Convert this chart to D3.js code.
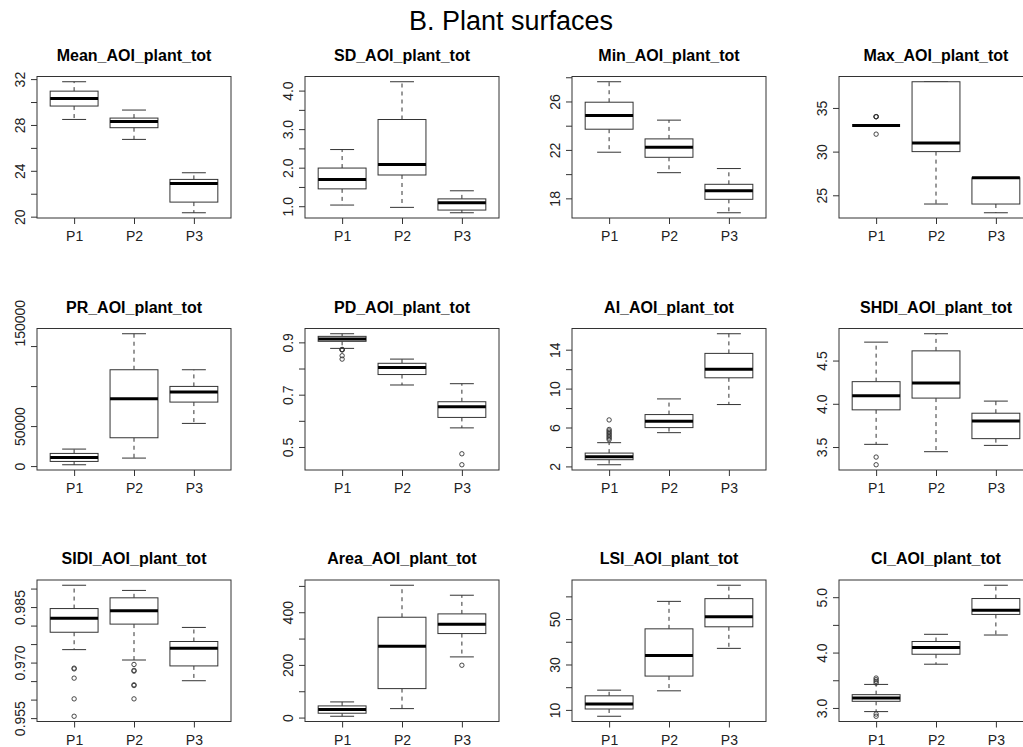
<!DOCTYPE html>
<html><head><meta charset="utf-8">
<script src="https://cdn.jsdelivr.net/npm/d3@7"></script>
<style>
body{margin:0;background:#fff;}
svg{display:block;font-family:"Liberation Sans",Arial,Helvetica,sans-serif;}
</style>
</head><body>
<svg id="chart" width="1023" height="747"></svg>
<script>
const mainTitle = "B. Plant surfaces";
const categories = ["P1", "P2", "P3"];
const panelTitles = ["Mean_AOI_plant_tot","SD_AOI_plant_tot","Min_AOI_plant_tot","Max_AOI_plant_tot",
  "PR_AOI_plant_tot","PD_AOI_plant_tot","AI_AOI_plant_tot","SHDI_AOI_plant_tot",
  "SIDI_AOI_plant_tot","Area_AOI_plant_tot","LSI_AOI_plant_tot","CI_AOI_plant_tot"];

// box stats per category: [lower whisker, Q1, median, Q3, upper whisker]
const meanStats = [[28.48,29.65,30.31,30.95,31.77],[26.74,27.76,28.31,28.60,29.30],[20.34,21.27,22.90,23.25,23.83]];
const meanOutliers = [[],[],[]];
const meanTicks = [20,22,24,26,28,30,32];
const meanLabels = ["20","","24","","28","","32"];

const sdStats = [[1.03,1.45,1.69,1.99,2.47],[0.97,1.81,2.08,3.25,4.23],[0.83,0.90,1.09,1.19,1.40]];
const sdOutliers = [[],[],[]];
const sdTicks = [1.0,1.5,2.0,2.5,3.0,3.5,4.0];
const sdLabels = ["1.0","","2.0","","3.0","","4.0"];

const minStats = [[21.81,23.71,24.84,25.94,27.63],[20.12,21.39,22.22,22.91,24.46],[16.81,17.92,18.63,19.16,20.46]];
const minOutliers = [[],[],[]];
const minTicks = [18,20,22,24,26,28];
const minLabels = ["18","","22","","26",""];

const maxStats = [[33,33,33,33,33],[24,30,31,38,38],[23,24,27,27,27]];
const maxOutliers = [[34,34,34,32],[],[]];
const maxTicks = [25,30,35];
const maxLabels = ["25","30","35"];

const prStats = [[1667,5833,10833,15833,21250],[10000,35417,84167,120417,165417],[53333,80000,92500,99583,120417]];
const prOutliers = [[],[],[]];
const prTicks = [0,50000,100000,150000];
const prLabels = ["0","50000","","150000"];

const pdStats = [[0.877,0.904,0.913,0.923,0.933],[0.737,0.777,0.804,0.820,0.836],[0.573,0.613,0.654,0.673,0.742]];
const pdOutliers = [[0.872,0.871,0.873,0.849,0.836],[],[0.474,0.432]];
const pdTicks = [0.5,0.6,0.7,0.8,0.9];
const pdLabels = ["0.5","","0.7","","0.9"];

const aiStats = [[2.17,2.69,3.00,3.37,4.44],[5.47,5.99,6.64,7.33,8.94],[8.36,11.11,12.00,13.62,15.64]];
const aiOutliers = [[4.75,4.9,5.05,5.2,5.35,5.5,5.65,5.8,6.78],[],[]];
const aiTicks = [2,4,6,8,10,12,14];
const aiLabels = ["2","","6","","10","","14"];

const shdiStats = [[3.531,3.930,4.093,4.256,4.713],[3.446,4.066,4.240,4.612,4.810],[3.519,3.597,3.802,3.891,4.031]];
const shdiOutliers = [[3.384,3.295],[],[]];
const shdiTicks = [3.5,4.0,4.5];
const shdiLabels = ["3.5","4.0","4.5"];

const sidiStats = [[0.9735,0.9782,0.9820,0.9846,0.9909],[0.9707,0.9804,0.9840,0.9875,0.9895],[0.9651,0.9691,0.9739,0.9757,0.9795]];
const sidiOutliers = [[0.9683,0.9685,0.9658,0.9602,0.9555],[0.9695,0.9677,0.9679,0.9638,0.9640,0.9602],[]];
const sidiTicks = [0.955,0.960,0.965,0.970,0.975,0.980,0.985,0.990];
const sidiLabels = ["0.955","","","0.970","","","0.985",""];

const areaStats = [[5,16.5,30.4,44.3,59.5],[34,110,271,381,502.5],[230.4,319,354.4,393.7,464.6]];
const areaOutliers = [[],[],[198.7]];
const areaTicks = [0,100,200,300,400,500];
const areaLabels = ["0","","200","","400",""];

const lsiStats = [[7.2,10.4,12.6,16.2,18.7],[18.4,24.9,34.0,45.7,57.8],[37.1,46.6,51.0,59.0,64.9]];
const lsiOutliers = [[],[],[]];
const lsiTicks = [10,20,30,40,50,60];
const lsiLabels = ["10","","30","","50",""];

const ciStats = [[2.934,3.12,3.18,3.24,3.425],[3.79,3.97,4.09,4.20,4.33],[4.317,4.689,4.766,4.976,5.216]];
const ciOutliers = [[3.45,3.48,3.51,3.54,2.89,2.85],[],[]];
const ciTicks = [3.0,3.5,4.0,4.5,5.0];
const ciLabels = ["3.0","","4.0","","5.0"];

const panels = [
  [meanStats, meanOutliers, meanTicks, meanLabels],
  [sdStats, sdOutliers, sdTicks, sdLabels],
  [minStats, minOutliers, minTicks, minLabels],
  [maxStats, maxOutliers, maxTicks, maxLabels],
  [prStats, prOutliers, prTicks, prLabels],
  [pdStats, pdOutliers, pdTicks, pdLabels],
  [aiStats, aiOutliers, aiTicks, aiLabels],
  [shdiStats, shdiOutliers, shdiTicks, shdiLabels],
  [sidiStats, sidiOutliers, sidiTicks, sidiLabels],
  [areaStats, areaOutliers, areaTicks, areaLabels],
  [lsiStats, lsiOutliers, lsiTicks, lsiLabels],
  [ciStats, ciOutliers, ciTicks, ciLabels]
].map((p, i) => ({title: panelTitles[i], stats: p[0], outliers: p[1], ticks: p[2], labels: p[3]}));

const svg = d3.select("#chart");
svg.append("rect").attr("width",1023).attr("height",747).attr("fill","#fff");

svg.append("text").attr("x", 511).attr("y", 30).attr("text-anchor","middle")
  .attr("font-size", 27).attr("fill","#000").text(mainTitle);

const colLefts = [37, 305, 572, 839];
const rowTops = [76.5, 328.5, 580];
const W = 194, H = 141.5;
const lineCol = "#333";

panels.forEach((p, idx) => {
  const col = idx % 4, row = Math.floor(idx / 4);
  const g = svg.append("g").attr("transform", `translate(${colLefts[col]},${rowTops[row]})`);
  const allVals = p.stats.flat().concat(p.outliers.flat());
  const lo = d3.min(allVals), hi = d3.max(allVals), pad = (hi - lo) * 0.04;
  const x = d3.scaleLinear().domain([0.38, 3.62]).range([0, W]);
  const y = d3.scaleLinear().domain([lo - pad, hi + pad]).range([H, 0]);

  g.append("text").attr("x", W/2).attr("y", -16).attr("text-anchor","middle")
    .attr("font-size", 16).attr("font-weight","bold").attr("fill","#000").text(p.title);

  const ya = g.append("g").attr("class","yaxis")
    .call(d3.axisLeft(y).tickValues(p.ticks).tickSize(6).tickSizeOuter(0).tickFormat((d,i)=>p.labels[i]));
  ya.select(".domain").remove();
  ya.selectAll("line").attr("stroke", lineCol);
  ya.selectAll("text").attr("x",0).attr("y",-12).attr("dy",0).attr("transform","rotate(-90)")
    .attr("text-anchor", function(){ return this.textContent.length >= 6 ? "start" : "middle"; })
    .attr("font-size",14).attr("font-family",null).attr("fill","#222");

  const xa = g.append("g").attr("transform",`translate(0,${H})`)
    .call(d3.axisBottom(x).tickValues([1,2,3]).tickSize(6).tickSizeOuter(0).tickPadding(7.5).tickFormat((d,i)=>categories[i]));
  xa.select(".domain").remove();
  xa.selectAll("line").attr("stroke", lineCol);
  xa.selectAll("text").attr("font-size",14).attr("font-family",null).attr("fill","#222");

  const half = x(1.4) - x(1), staple = half * 0.5;
  p.stats.forEach((s, i) => {
    const cx = x(i + 1);
    const [lw, q1, med, q3, uw] = s;
    g.append("line").attr("x1",cx).attr("x2",cx).attr("y1",y(q3)).attr("y2",y(uw))
      .attr("stroke",lineCol).attr("stroke-dasharray","4,4");
    g.append("line").attr("x1",cx).attr("x2",cx).attr("y1",y(q1)).attr("y2",y(lw))
      .attr("stroke",lineCol).attr("stroke-dasharray","4,4");
    [lw, uw].forEach(v => g.append("line").attr("x1",cx-staple).attr("x2",cx+staple)
      .attr("y1",y(v)).attr("y2",y(v)).attr("stroke",lineCol));
    g.append("rect").attr("x",cx-half).attr("width",2*half).attr("y",y(q3)).attr("height",Math.max(0,y(q1)-y(q3)))
      .attr("fill","#fff").attr("stroke",lineCol);
    g.append("line").attr("x1",cx-half).attr("x2",cx+half).attr("y1",y(med)).attr("y2",y(med))
      .attr("stroke","#000").attr("stroke-width",3);
    p.outliers[i].forEach(v => g.append("circle").attr("cx",cx).attr("cy",y(v)).attr("r",2.2)
      .attr("fill","none").attr("stroke",lineCol).attr("stroke-width",0.9));
  });

  g.append("rect").attr("width",W).attr("height",H).attr("fill","none").attr("stroke",lineCol);
});
</script>
</body></html>
